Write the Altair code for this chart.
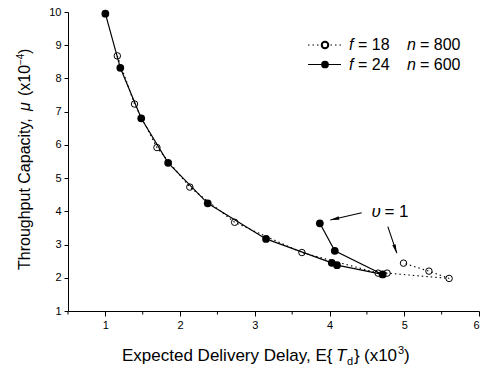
import altair as alt
import pandas as pd

FONT = "Liberation Sans"

# ---- data ----
x_ticks = [1, 2, 3, 4, 5, 6]
x_minor = [0.5, 1.5, 2.5, 3.5, 4.5, 5.5]
y_ticks = [1, 2, 3, 4, 5, 6, 7, 8, 9, 10]

f18_delay = [1.16, 1.39, 1.69, 2.13, 2.73, 3.63, 4.65, 4.77, 5.60, 5.33, 4.99]
f18_cap = [8.68, 7.23, 5.92, 4.73, 3.67, 2.76, 2.14, 2.14, 1.98, 2.20, 2.44]

f24_delay = [1.00, 1.20, 1.48, 1.84, 2.37, 3.15, 4.03, 4.10, 4.71, 4.07, 3.87]
f24_cap = [9.95, 8.32, 6.80, 5.46, 4.24, 3.17, 2.45, 2.38, 2.10, 2.81, 3.64]

# annotation arrows (start -> tip) in data units
arrow_x = [4.43, 4.78]
arrow_y = [3.96, 3.54]
arrow_x2 = [4.01, 4.90]
arrow_y2 = [3.74, 2.74]
arrow_angle = [256.8, 161.3]
label_x = [4.56]
label_y = [3.99]

df18 = pd.DataFrame({"delay": f18_delay, "cap": f18_cap, "k": list(range(len(f18_delay)))})
df24 = pd.DataFrame({"delay": f24_delay, "cap": f24_cap, "k": list(range(len(f24_delay)))})
dfar = pd.DataFrame({"delay": arrow_x, "cap": arrow_y, "x2": arrow_x2, "y2": arrow_y2, "a": arrow_angle})
dfhead = pd.DataFrame({"delay": arrow_x2, "cap": arrow_y2, "a": arrow_angle})
dfminor = pd.DataFrame({"delay": x_minor})
dflab = pd.DataFrame({"delay": label_x, "cap": label_y})
one = pd.DataFrame({"k": [0]})

xs = alt.Scale(domain=[0.5, 6], nice=False, zero=False)
ys = alt.Scale(domain=[1, 10], nice=False, zero=False)

xaxis = alt.Axis(values=x_ticks, tickSize=5, labelFontSize=11, title=None, grid=False,
                 domainColor="black", tickColor="black", labelColor="black",
                 labelPadding=3, format="d", labelFont=FONT)
yaxis = alt.Axis(values=y_ticks, tickSize=4, labelFontSize=11, title=None, grid=False,
                 domainColor="black", tickColor="black", labelColor="black",
                 labelPadding=3, format="d", labelFont=FONT)

X = alt.X("delay:Q", scale=xs, axis=xaxis, title=None)
Y = alt.Y("cap:Q", scale=ys, axis=yaxis, title=None)

line24 = alt.Chart(df24).mark_line(color="black", strokeWidth=1.2).encode(x=X, y=Y, order="k:Q")
line18 = alt.Chart(df18).mark_line(color="black", strokeWidth=1.1, strokeDash=[1.5, 3]).encode(
    x=X, y=Y, order="k:Q")
pts18 = alt.Chart(df18).mark_point(shape="circle", size=42, filled=False, color="black",
                                   strokeWidth=1, opacity=1).encode(x=X, y=Y)
pts24 = alt.Chart(df24).mark_point(shape="circle", size=60, filled=True, color="black",
                                   opacity=1).encode(x=X, y=Y)
minor = alt.Chart(dfminor).mark_rule(color="black", strokeWidth=1).encode(
    x=X, y=alt.value(299.5), y2=alt.value(302.5))

arrows = alt.Chart(dfar).mark_rule(color="black", strokeWidth=1.1).encode(
    x=X, y=Y, x2="x2:Q", y2="y2:Q")
heads = alt.Chart(dfhead).mark_point(shape="M0,0L-0.4,2L0.4,2Z", size=80, filled=True,
                                     color="black", opacity=1).encode(
    x=X, y=Y, angle=alt.Angle("a:Q", scale=None))
lab_u = alt.Chart(dflab).mark_text(text="υ", fontSize=17, fontStyle="italic", align="left",
                                   baseline="middle", font=FONT, color="black").encode(x=X, y=Y)
lab_eq = alt.Chart(dflab).mark_text(text="= 1", fontSize=17, align="left", dx=13,
                                    baseline="middle", font=FONT, color="black").encode(x=X, y=Y)


def txt(s, x, y, size, italic=False, angle=0, baseline="alphabetic"):
    kw = dict(text=s, fontSize=size, align="left", baseline=baseline, font=FONT, color="black")
    if italic:
        kw["fontStyle"] = "italic"
    if angle:
        kw["angle"] = angle
    return alt.Chart(one).mark_text(**kw).encode(x=alt.value(x), y=alt.value(y))


# x title pieces
xt = [
    txt("Expected Delivery Delay, E{", 54, 349, 17),
    txt("T", 268, 349, 17, italic=True),
    txt("d", 279, 353, 11),
    txt("}", 286, 349, 17),
    txt("(x10", 296, 349, 17),
    txt("3", 330, 342, 11),
    txt(")", 336, 349, 17),
]
# y title pieces (rotated)
yb = -38
yt = [
    txt("Throughput Capacity,", yb, 258, 16, angle=270),
    txt("μ", yb, 99, 16, italic=True, angle=270),
    txt("(x10", yb, 84, 16, angle=270),
    txt("−4", yb - 6, 53, 10, angle=270),
    txt(")", yb, 42, 16, angle=270),
]

# legend
leg = [
    alt.Chart(one).mark_rule(color="black", strokeWidth=1.1, strokeDash=[1.5, 3]).encode(
        x=alt.value(240), x2=alt.value(273), y=alt.value(33)),
    alt.Chart(one).mark_point(shape="circle", size=42, filled=False, color="black",
                              opacity=1, fill="white").encode(x=alt.value(257), y=alt.value(33)),
    alt.Chart(one).mark_rule(color="black", strokeWidth=1.2).encode(
        x=alt.value(240), x2=alt.value(273), y=alt.value(52.5)),
    alt.Chart(one).mark_point(shape="circle", size=60, filled=True, color="black",
                              opacity=1).encode(x=alt.value(257), y=alt.value(52.5)),
    txt("f", 281, 33, 16, italic=True, baseline="middle"),
    txt("= 18", 290, 33, 16, baseline="middle"),
    txt("n", 339, 33, 16, italic=True, baseline="middle"),
    txt("= 800", 352, 33, 16, baseline="middle"),
    txt("f", 281, 52.5, 16, italic=True, baseline="middle"),
    txt("= 24", 290, 52.5, 16, baseline="middle"),
    txt("n", 339, 52.5, 16, italic=True, baseline="middle"),
    txt("= 600", 352, 52.5, 16, baseline="middle"),
]

chart = alt.layer(
    line24, line18, minor, pts18, pts24, arrows, heads, lab_u, lab_eq, *xt, *yt, *leg
).properties(
    width=411, height=299,
    autosize=alt.AutoSizeParams(type="none"),
    padding={"left": 68, "top": 12, "right": 13, "bottom": 61},
    background="white",
).configure_view(stroke=None).configure_axis(labelFont=FONT)

chart.save("out.html", embed_options={"renderer": "svg", "actions": False})
